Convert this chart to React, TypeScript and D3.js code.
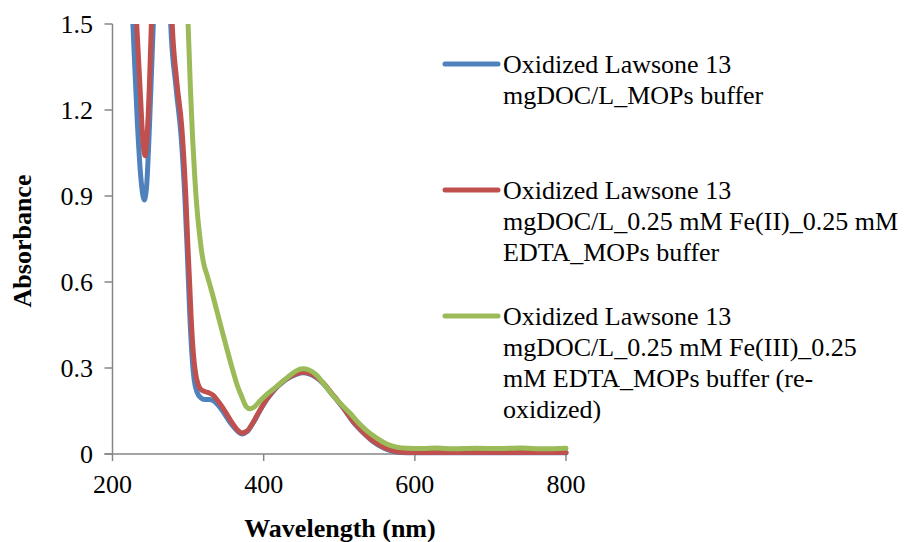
import React from "react";
import * as d3 from "d3";

const xTicks = [200, 400, 600, 800];
const yTicks = [0, 0.3, 0.6, 0.9, 1.2, 1.5];
const yTickLabels = ["0", "0.3", "0.6", "0.9", "1.2", "1.5"];

const blueWl = [200, 212, 222, 227, 233, 238, 242, 245, 249, 254, 258, 264, 270, 274, 277, 284, 291, 296, 299, 302, 305, 308, 312, 317, 322, 328, 334, 340, 347, 353, 360, 366, 371, 378, 386, 395, 405, 415, 425, 435, 445, 452, 460, 470, 478, 490, 505, 518, 531, 545, 558, 570, 580, 600, 700, 800];
const blueAbs = [2.6, 2.2, 1.8, 1.5, 1.15, 0.95, 0.886, 0.93, 1.15, 1.5, 1.85, 2.3, 2.2, 1.8, 1.5, 1.28, 1.1, 0.88, 0.7, 0.5, 0.35, 0.26, 0.215, 0.196, 0.19, 0.19, 0.185, 0.17, 0.145, 0.12, 0.095, 0.078, 0.07, 0.078, 0.108, 0.151, 0.193, 0.226, 0.25, 0.268, 0.28, 0.283, 0.28, 0.266, 0.248, 0.21, 0.161, 0.113, 0.076, 0.043, 0.022, 0.01, 0.005, 0.004, 0.004, 0.004];

const redWl = [200, 215, 225, 232, 237, 240, 243, 246, 249, 252, 256, 262, 270, 275, 279, 285, 292, 297, 300, 302, 304, 307, 310, 313, 317, 322, 327, 333, 338, 345, 351, 358, 365, 371, 378, 386, 395, 405, 415, 425, 435, 445, 452, 460, 470, 478, 490, 505, 518, 531, 545, 558, 570, 580, 600, 700, 800];
const redAbs = [2.6, 2.3, 1.85, 1.5, 1.25, 1.1, 1.04, 1.12, 1.3, 1.55, 1.9, 2.3, 2.2, 1.8, 1.5, 1.3, 1.13, 0.9, 0.71, 0.6, 0.48, 0.35, 0.28, 0.245, 0.225, 0.218, 0.214, 0.205, 0.19, 0.165, 0.14, 0.11, 0.085, 0.073, 0.08, 0.11, 0.153, 0.195, 0.228, 0.252, 0.27, 0.282, 0.285, 0.282, 0.268, 0.25, 0.212, 0.163, 0.115, 0.078, 0.045, 0.024, 0.012, 0.007, 0.005, 0.005, 0.005];

const greenWl = [200, 240, 270, 290, 296, 300, 303, 306, 309, 312, 315, 318, 321, 325, 332, 342, 350, 359, 365, 371, 377, 382, 388, 395, 405, 417, 428, 438, 446, 452, 460, 470, 478, 490, 500, 514, 525, 537, 550, 562, 576, 590, 610, 630, 650, 680, 710, 740, 770, 800];
const greenAbs = [2.6, 2.6, 2.4, 1.9, 1.65, 1.5, 1.28, 1.1, 0.96, 0.85, 0.77, 0.705, 0.66, 0.625, 0.56, 0.46, 0.38, 0.293, 0.24, 0.2, 0.165, 0.158, 0.165, 0.185, 0.21, 0.235, 0.26, 0.281, 0.294, 0.297, 0.293, 0.275, 0.25, 0.21, 0.18, 0.143, 0.11, 0.08, 0.055, 0.036, 0.024, 0.02, 0.019, 0.021, 0.018, 0.02, 0.019, 0.021, 0.018, 0.02];

const seriesNames = [
  ["Oxidized Lawsone 13", "mgDOC/L_MOPs buffer"],
  ["Oxidized Lawsone 13", "mgDOC/L_0.25 mM Fe(II)_0.25 mM", "EDTA_MOPs buffer"],
  ["Oxidized Lawsone 13", "mgDOC/L_0.25 mM Fe(III)_0.25", "mM EDTA_MOPs buffer (re-", "oxidized)"],
];
const seriesColors = ["#4F81BD", "#C0504D", "#9BBB59"];

export default function App() {
  const left = 112.5, right = 566, top = 24, bottom = 454;
  const x = d3.scaleLinear().domain([200, 800]).range([left, right]);
  const y = d3.scaleLinear().domain([0, 1.5]).range([bottom, top]);
  const line = d3
    .line<[number, number]>()
    .x((d) => x(d[0]))
    .y((d) => y(d[1]))
    .curve(d3.curveMonotoneX);

  const series = [
    blueWl.map((w, i) => [w, blueAbs[i]] as [number, number]),
    redWl.map((w, i) => [w, redAbs[i]] as [number, number]),
    greenWl.map((w, i) => [w, greenAbs[i]] as [number, number]),
  ];

  const fontStyle = { fontFamily: '"Liberation Serif"' };
  const axisColor = "#868686";
  const legendY = [64, 190, 316];
  const lh = 31;

  return (
    <svg
      width={909}
      height={542}
      style={{ position: "absolute", left: 0, top: 0, background: "#fff" }}
    >
      <defs>
        <clipPath id="plotclip">
          <rect x={left - 5} y={top} width={right - left + 15} height={bottom - top + 10} />
        </clipPath>
      </defs>
      <line x1={left} x2={left} y1={top} y2={bottom} stroke={axisColor} strokeWidth={1.5} />
      <line x1={left - 8} x2={right} y1={bottom} y2={bottom} stroke={axisColor} strokeWidth={1.5} />
      {yTicks.map((t, i) => (
        <g key={"y" + i}>
          <line x1={left - 8} x2={left} y1={y(t)} y2={y(t)} stroke={axisColor} strokeWidth={1.5} />
          <text x={93} y={y(t)} dy="0.35em" textAnchor="end" fontSize={26} fill="#000" style={fontStyle}>
            {yTickLabels[i]}
          </text>
        </g>
      ))}
      {xTicks.map((t) => (
        <g key={"x" + t}>
          <line x1={x(t)} x2={x(t)} y1={bottom} y2={bottom + 7} stroke={axisColor} strokeWidth={1.5} />
          <text x={x(t)} y={493} textAnchor="middle" fontSize={26} fill="#000" style={fontStyle}>
            {t}
          </text>
        </g>
      ))}
      <text x={340} y={537} textAnchor="middle" fontSize={26} fontWeight="bold" fill="#000" style={fontStyle}>
        Wavelength (nm)
      </text>
      <text
        transform={`translate(31, 241) rotate(-90)`}
        textAnchor="middle"
        fontSize={26}
        fontWeight="bold"
        fill="#000"
        style={fontStyle}
      >
        Absorbance
      </text>
      <g clipPath="url(#plotclip)">
        {series.map((s, i) => (
          <path
            key={"s" + i}
            d={line(s) || ""}
            fill="none"
            stroke={seriesColors[i]}
            strokeWidth={5}
            strokeLinejoin="round"
            strokeLinecap="round"
          />
        ))}
      </g>
      {seriesNames.map((lines, i) => (
        <g key={"l" + i}>
          <line
            x1={445}
            x2={498}
            y1={legendY[i]}
            y2={legendY[i]}
            stroke={seriesColors[i]}
            strokeWidth={5}
            strokeLinecap="round"
          />
          {lines.map((t, j) => (
            <text key={j} x={503} y={legendY[i] + j * lh} dy="0.35em" fontSize={26} fill="#000" style={fontStyle}>
              {t}
            </text>
          ))}
        </g>
      ))}
    </svg>
  );
}
